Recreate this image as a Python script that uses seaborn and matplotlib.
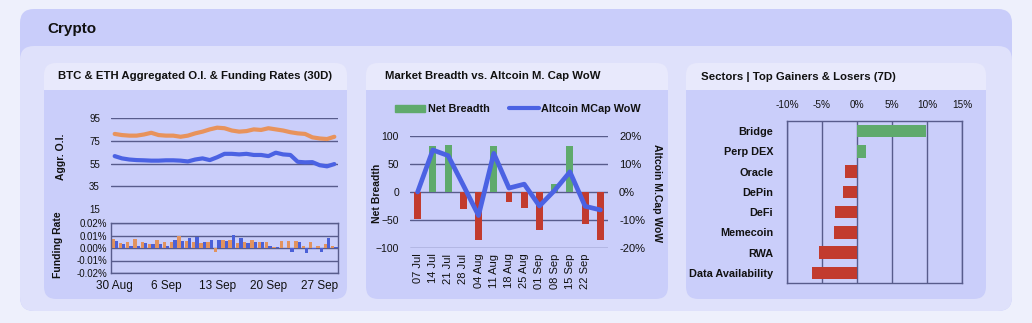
import numpy as np
import pandas as pd
import matplotlib
matplotlib.use("Agg")
import matplotlib.pyplot as plt
from matplotlib.patches import FancyBboxPatch, Patch
from matplotlib.lines import Line2D
import seaborn as sns

# ---------------- data ----------------
oi_start = "2024-08-30"
btc_oi = [81, 80, 79.5, 79.5, 80.5, 82, 80, 79.5, 79.5, 78.5, 79.5, 81.5, 83, 85, 86.5,
          86, 84, 83, 83.5, 85, 84.5, 86, 85, 84, 82.5, 81.5, 81, 78, 77, 76.5, 78.5]
eth_oi = [61.5, 59.5, 58.5, 58, 57.8, 57.5, 57.5, 57.8, 57.8, 57.5, 56.8, 58.5, 59.5, 58, 60.5,
          63.5, 63.5, 63, 63.5, 62.5, 62.5, 61.5, 64.5, 63, 62.5, 56.5, 56, 56.2, 53.5, 52.5, 54.5]
btc_funding = [0.0074, 0.004, 0.005, 0.007, 0.005, 0.0034, 0.0066, 0.005, 0.005, 0.0095, 0.006,
               0.005, 0.004, 0.005, -0.003, 0.0066, 0.0068, 0.004, 0.005, 0.0066, 0.005, 0.005,
               0.0005, 0.006, 0.006, 0.006, 0.002, 0.005, 0.002, 0.003, 0.002]
eth_funding = [0.006, 0.0034, 0.002, 0.002, 0.004, 0.003, 0.003, 0.002, 0.0066, 0.006, 0.008,
               0.0087, 0.005, 0.0066, 0.0066, 0.006, 0.0105, 0.008, 0.004, 0.005, 0.005, 0.002,
               0.001, 0.0, -0.003, 0.005, -0.004, -0.001, -0.003, 0.008, 0.001]

weeks = ["07 Jul", "14 Jul", "21 Jul", "28 Jul", "04 Aug", "11 Aug", "18 Aug",
         "25 Aug", "01 Sep", "08 Sep", "15 Sep", "22 Sep", ""]
net_breadth = [-48, 82, 84, -30, -85, 82, -18, -28, -68, 15, 82, -57, -85]
altcoin_wow = [0.0, 15.0, 13.0, 2.4, -8.4, 13.8, 1.4, 2.8, -5.0, 0.6, 7.2, -5.1, -6.4]

sectors = ["Bridge", "Perp DEX", "Oracle", "DePin", "DeFi", "Memecoin", "RWA", "Data Availability"]
sector_7d = [9.8, 1.35, -1.7, -2.0, -3.1, -3.3, -5.5, -6.5]

# ---------------- style ----------------
sns.set_style("white")
plt.rcParams["font.family"] = ["Liberation Sans", "DejaVu Sans"]
plt.rcParams["text.color"] = "#111111"
plt.rcParams["axes.labelcolor"] = "#111111"
plt.rcParams["xtick.color"] = "#111111"
plt.rcParams["ytick.color"] = "#111111"

W, H = 1032, 323
fig = plt.figure(figsize=(W / 100, H / 100), dpi=100)
fig.patch.set_facecolor("#EEF0FC")

GRID = "#585C8C"
ORANGE = "#E8935C"
BLUE = "#4B62E3"
GREEN = "#5FAA6C"
RED = "#C23B2E"


def rect(x0, y0, x1, y1):
    return [x0 / W, 1 - y1 / H, (x1 - x0) / W, (y1 - y0) / H]


# background cards (pixel coordinates)
bg = fig.add_axes([0, 0, 1, 1])
bg.set_xlim(0, W)
bg.set_ylim(H, 0)
bg.axis("off")


def card(x0, y0, x1, y1, color, r=12):
    bg.add_patch(FancyBboxPatch((x0 + r, y0 + r), x1 - x0 - 2 * r, y1 - y0 - 2 * r,
                                boxstyle=f"round,pad={r}", fc=color, ec="none"))


card(20, 9, 1012, 311, "#C9CDFA", r=14)
card(20, 46, 1012, 311, "#DFE1FB", r=14)
for px0, px1 in [(44, 347), (366, 668), (686, 986)]:
    card(px0, 63, px1, 299, "#E8E9FC", r=12)
    card(px0, 90, px1, 299, "#CACEFA", r=12)
    bg.add_patch(plt.Rectangle((px0, 90), px1 - px0, 14, fc="#CACEFA", ec="none"))

bg.text(47, 29, "Crypto", fontsize=11, fontweight="bold", va="center", ha="left")
title_kw = dict(fontsize=8.2, fontweight="bold", va="center", ha="left")
bg.text(58, 76, "BTC & ETH Aggregated O.I. & Funding Rates (30D)", **title_kw)
bg.text(385, 76, "Market Breadth vs. Altcoin M. Cap WoW", **title_kw)
bg.text(701, 77, "Sectors | Top Gainers & Losers (7D)", **title_kw)

lab_kw = dict(fontsize=7.5, fontweight="bold", va="center", ha="center")
bg.text(61, 157, "Aggr. O.I.", rotation=90, **lab_kw)
bg.text(58, 245, "Funding Rate", rotation=90, **lab_kw)
bg.text(377, 193, "Net Breadth", rotation=90, **lab_kw)
bg.text(657, 193, "Altcoin M.Cap WoW", rotation=-90, **lab_kw)

# ---------------- panel 1: open interest + funding ----------------
dates = pd.date_range(oi_start, periods=len(btc_oi), freq="D")
days = np.arange(len(dates))
oi_df = pd.DataFrame({
    "day": np.concatenate([days, days]),
    "oi": btc_oi + eth_oi,
    "coin": ["BTC"] * len(days) + ["ETH"] * len(days),
})
fr_df = pd.DataFrame({
    "day": np.concatenate([days, days]),
    "rate": btc_funding + eth_funding,
    "coin": ["BTC"] * len(days) + ["ETH"] * len(days),
})

ax_oi = fig.add_axes(rect(111, 118, 338, 209))
ax_oi.patch.set_alpha(0)
sns.lineplot(data=oi_df, x="day", y="oi", hue="coin", palette={"BTC": ORANGE, "ETH": BLUE},
             linewidth=3, legend=False, ax=ax_oi)
ax_oi.set_xlim(-0.5, len(days) - 0.5)
ax_oi.set_ylim(15, 95)
ax_oi.set_yticks([15, 35, 55, 75, 95])
ax_oi.set_xticks([])
ax_oi.set_xlabel("")
ax_oi.set_ylabel("")
ax_oi.grid(axis="y", color=GRID, lw=1)
ax_oi.get_ygridlines()[0].set_visible(False)
for s in ax_oi.spines.values():
    s.set_visible(False)
ax_oi.tick_params(axis="y", labelsize=7, length=0, pad=8)

ax_fr = fig.add_axes(rect(111, 223, 338, 273))
ax_fr.patch.set_alpha(0)
sns.barplot(data=fr_df, x="day", y="rate", hue="coin", palette={"BTC": "#E2935E", "ETH": "#4A60D8"},
            width=0.92, saturation=1, linewidth=0, edgecolor="none", legend=False, ax=ax_fr)
ax_fr.set_xlim(-0.5, len(days) - 0.5)
ax_fr.set_ylim(-0.02, 0.02)
ax_fr.set_yticks([-0.02, -0.01, 0.0, 0.01, 0.02])
ax_fr.set_yticklabels([f"{v:.2f}%" for v in [-0.02, -0.01, 0.0, 0.01, 0.02]])
tick_days = days[::7]
ax_fr.set_xticks(tick_days)
ax_fr.set_xticklabels([f"{d.day} {d:%b}" for d in dates[::7]])
ax_fr.set_xlabel("")
ax_fr.set_ylabel("")
ax_fr.grid(axis="y", color=GRID, lw=1)
ax_fr.set_axisbelow(True)
for s in ax_fr.spines.values():
    s.set_visible(True)
    s.set_color(GRID)
    s.set_linewidth(1)
ax_fr.tick_params(axis="y", labelsize=7, length=0, pad=3)
ax_fr.tick_params(axis="x", labelsize=8.5, length=0, pad=5)

bg.legend(handles=[Line2D([], [], color=ORANGE, lw=3), Line2D([], [], color=BLUE, lw=3)],
          labels=["BTC", "ETH"], loc="center", bbox_to_anchor=(220, 105),
          bbox_transform=bg.transData, ncol=2, frameon=False, handlelength=3.0,
          handletextpad=0.1, columnspacing=3.2, prop={"weight": "bold", "size": 8})

# ---------------- panel 2: market breadth ----------------
ax_mb = fig.add_axes(rect(410, 136, 608, 248))
ax_mb.patch.set_alpha(0)
sign = ["up" if v >= 0 else "down" for v in net_breadth]
sns.barplot(x=weeks, y=net_breadth, hue=sign, palette={"up": GREEN, "down": RED},
            order=weeks, width=0.45, saturation=1, dodge=False, linewidth=0, edgecolor="none",
            legend=False, ax=ax_mb)
ax_mb.set_ylim(-100, 100)
ax_mb.set_yticks([-100, -50, 0, 50, 100])
ax_mb.grid(axis="y", color=GRID, lw=1)
ax_mb.set_axisbelow(True)
for s in ax_mb.spines.values():
    s.set_visible(False)
ax_mb.tick_params(axis="y", labelsize=7.5, length=0, pad=8)
ax_mb.tick_params(axis="x", labelsize=8, length=0, pad=4, rotation=90)
ax_mb.set_xlabel("")
ax_mb.set_ylabel("")

ax_w = ax_mb.twinx()
sns.lineplot(x=np.arange(len(weeks)), y=altcoin_wow, color=BLUE, linewidth=3.4, ax=ax_w)
ax_w.set_ylim(-20, 20)
ax_w.set_yticks([-20, -10, 0, 10, 20])
ax_w.set_yticklabels([f"{v}%" for v in [-20, -10, 0, 10, 20]])
ax_w.grid(False)
for s in ax_w.spines.values():
    s.set_visible(False)
ax_w.tick_params(axis="y", labelsize=8, length=0, pad=8)
ax_w.set_ylabel("")
ax_mb.set_xlim(-0.5, len(weeks) - 0.5)

bg.legend(handles=[Patch(color=GREEN), Line2D([], [], color=BLUE, lw=3)],
          labels=["Net Breadth", "Altcoin MCap WoW"], loc="center", bbox_to_anchor=(518, 109),
          bbox_transform=bg.transData, ncol=2, frameon=False, handlelength=2.8, handleheight=0.6,
          handletextpad=0.2, columnspacing=1.8, prop={"weight": "bold", "size": 7.8})

# ---------------- panel 3: sectors ----------------
ax_s = fig.add_axes(rect(787, 121, 962, 283))
ax_s.patch.set_alpha(0)
sec_colors = [GREEN if v >= 0 else RED for v in sector_7d]
sns.barplot(x=sector_7d, y=sectors, hue=sectors, palette=sec_colors, orient="h",
            width=0.62, saturation=1, linewidth=0, edgecolor="none", legend=False, ax=ax_s)
ax_s.set_xlim(-10, 15)
ax_s.set_xticks([-10, -5, 0, 5, 10, 15])
ax_s.set_xticklabels([f"{v}%" for v in [-10, -5, 0, 5, 10, 15]])
ax_s.xaxis.tick_top()
ax_s.grid(axis="x", color=GRID, lw=1)
ax_s.grid(axis="y", visible=False)
ax_s.set_axisbelow(True)
for s in ax_s.spines.values():
    s.set_visible(True)
    s.set_color(GRID)
    s.set_linewidth(1)
ax_s.tick_params(axis="x", labelsize=7.2, length=0, pad=8)
ax_s.tick_params(axis="y", length=0, pad=10)
for t in ax_s.get_yticklabels():
    t.set_fontweight("bold")
    t.set_fontsize(7.8)
ax_s.set_xlabel("")
ax_s.set_ylabel("")

fig.savefig("out.png", dpi=100, facecolor=fig.get_facecolor())
